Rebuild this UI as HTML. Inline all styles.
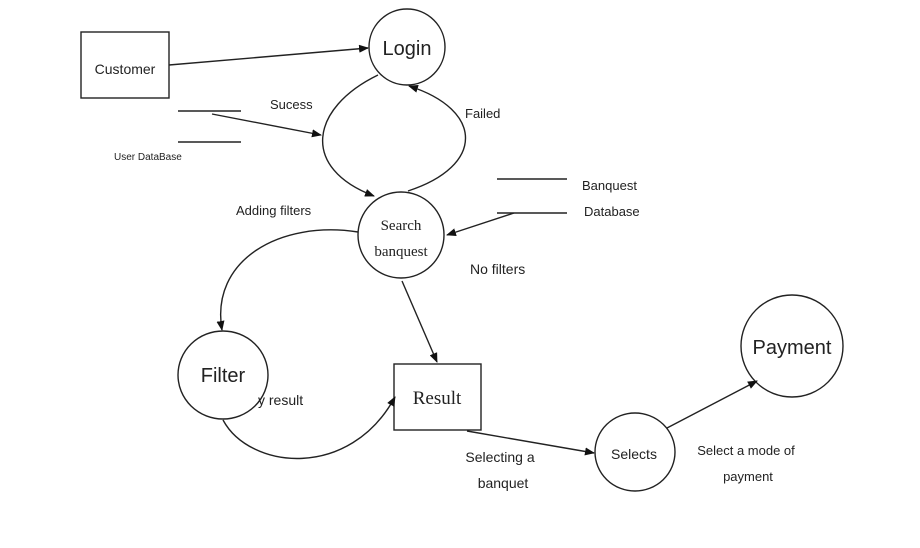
<!DOCTYPE html>
<html><head><meta charset="utf-8"><style>
body{margin:0;background:#fff;}
svg text{font-family:"Liberation Sans",sans-serif;fill:#222;}
.serif{font-family:"Liberation Serif",serif !important;}
</style></head><body>
<svg width="920" height="543" viewBox="0 0 920 543" xmlns="http://www.w3.org/2000/svg">
<defs><marker id="a" markerWidth="10" markerHeight="8" refX="9" refY="4" orient="auto" markerUnits="userSpaceOnUse"><path d="M0,0 L10,4 L0,8 z" fill="#111"/></marker></defs>
<g stroke="#222" stroke-width="1.4" fill="none">
<rect x="81" y="32" width="88" height="66"/>
<circle cx="407" cy="47" r="38"/>
<circle cx="401" cy="235" r="43"/>
<ellipse cx="223" cy="375" rx="45" ry="44"/>
<rect x="394" y="364" width="87" height="66"/>
<ellipse cx="635" cy="452" rx="40" ry="39"/>
<circle cx="792" cy="346" r="51"/>
<line x1="178" y1="111" x2="241" y2="111"/><line x1="178" y1="142" x2="241" y2="142"/>
<line x1="497" y1="179" x2="567" y2="179"/><line x1="497" y1="213" x2="567" y2="213"/>
<line x1="169" y1="65" x2="368" y2="48" marker-end="url(#a)"/>
<line x1="212" y1="114" x2="321" y2="135" marker-end="url(#a)"/>
<path d="M378,75 C310,108 300,168 374,196" marker-end="url(#a)"/>
<path d="M408,191 C485,166 484,110 409,86" marker-end="url(#a)"/>
<line x1="514" y1="213" x2="447" y2="235" marker-end="url(#a)"/>
<line x1="402" y1="281" x2="437" y2="362" marker-end="url(#a)"/>
<path d="M358,232 C280,220 210,260 222,330" marker-end="url(#a)"/>
<path d="M223,420 C250,470 350,480 395,397" marker-end="url(#a)"/>
<line x1="467" y1="431" x2="594" y2="453" marker-end="url(#a)"/>
<line x1="667" y1="428" x2="757" y2="381" marker-end="url(#a)"/>
</g>
<text x="125" y="74" font-size="14" text-anchor="middle">Customer</text>
<text x="407" y="55" font-size="20" text-anchor="middle">Login</text>
<text class="serif" x="401" y="230" font-size="15" text-anchor="middle">Search</text>
<text class="serif" x="401" y="256" font-size="15" text-anchor="middle">banquest</text>
<text x="223" y="382" font-size="20" text-anchor="middle">Filter</text>
<text class="serif" x="437" y="404" font-size="19" text-anchor="middle">Result</text>
<text x="634" y="459" font-size="14" text-anchor="middle">Selects</text>
<text x="792" y="354" font-size="20" text-anchor="middle">Payment</text>
<text x="270" y="109" font-size="13">Sucess</text>
<text x="465" y="118" font-size="13">Failed</text>
<text x="114" y="160" font-size="10">User DataBase</text>
<text x="582" y="190" font-size="13">Banquest</text>
<text x="584" y="216" font-size="13">Database</text>
<text x="236" y="215" font-size="13">Adding filters</text>
<text x="470" y="274" font-size="14">No filters</text>
<text x="258" y="405" font-size="14">y result</text>
<text x="500" y="462" font-size="14" text-anchor="middle">Selecting a</text>
<text x="503" y="488" font-size="14" text-anchor="middle">banquet</text>
<text x="746" y="455" font-size="13" text-anchor="middle">Select a mode of</text>
<text x="748" y="481" font-size="13" text-anchor="middle">payment</text>
</svg>
</body></html>
